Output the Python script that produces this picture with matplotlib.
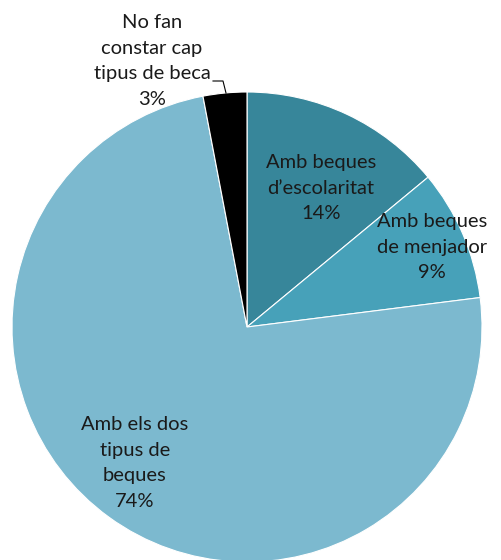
import matplotlib
matplotlib.use("Agg")
import matplotlib.pyplot as plt

# ------------------------------------------------------------
# DATA
# ------------------------------------------------------------
labels = ["Amb beques\nd\u2019escolaritat", "Amb beques\nde menjador",
          "Amb els dos\ntipus de\nbeques", "No fan\nconstar cap\ntipus de beca"]
values = [14, 9, 74, 3]
colors = ["#37869A", "#47A1B9", "#7CB9CF", "#000000"]

# ------------------------------------------------------------
# FIGURE (pixel layout of the reference, 501 x 560)
# ------------------------------------------------------------
W, H = 501, 560
CX, CY, R = 247, 327, 235   # pie centre / radius in pixels (from top)

plt.rcParams["font.family"] = ["Lato", "DejaVu Sans"]

fig = plt.figure(figsize=(W / 100, H / 100), dpi=100)
ax = fig.add_axes([0, 0, 1, 1])
ax.pie(values, colors=colors, startangle=90, counterclock=False,
       radius=1.0, wedgeprops=dict(edgecolor="white", linewidth=0.8))
ax.set_xlim(-CX / R, (W - CX) / R)
ax.set_ylim(-(H - CY) / R, CY / R)
ax.set_aspect("equal")
ax.axis("off")


def px(x, y):
    # pixel (from top-left) -> data coords
    return (x - CX) / R, (CY - y) / R


label_pos = [(321, 188), (432, 247), (135, 463), (152, 61)]
for lab, v, (x, y) in zip(labels, values, label_pos):
    tx, ty = px(x, y)
    ax.text(tx, ty, f"{lab}\n{v}%", ha="center", va="center",
            fontsize=14.5, color="#1a1a1a", linespacing=1.62)

# leader line for the small slice
pts = [px(213, 81), px(223, 81), px(226, 93)]
ax.plot([p[0] for p in pts], [p[1] for p in pts], color="black", lw=0.8)

fig.savefig("out.png", dpi=100)
